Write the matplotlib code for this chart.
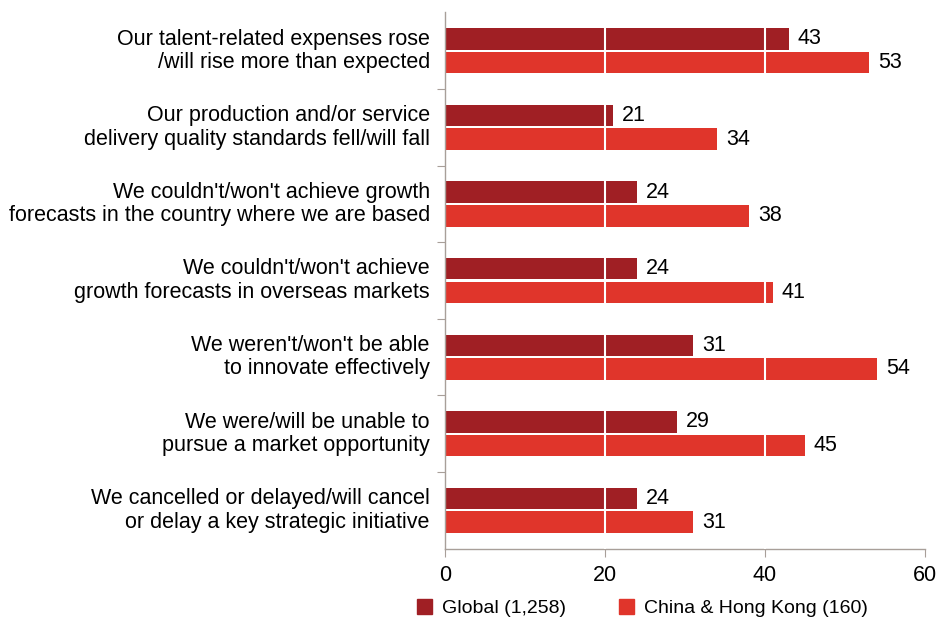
import numpy as np
import matplotlib.pyplot as plt
from matplotlib.patches import Patch

plt.rcParams['font.family'] = ['Liberation Sans', 'DejaVu Sans']

categories = [
    "Our talent-related expenses rose\n/will rise more than expected",
    "Our production and/or service\ndelivery quality standards fell/will fall",
    "We couldn't/won't achieve growth\nforecasts in the country where we are based",
    "We couldn't/won't achieve\ngrowth forecasts in overseas markets",
    "We weren't/won't be able\nto innovate effectively",
    "We were/will be unable to\npursue a market opportunity",
    "We cancelled or delayed/will cancel\nor delay a key strategic initiative",
]
global_vals = [43, 21, 24, 24, 31, 29, 24]
china_vals = [53, 34, 38, 41, 54, 45, 31]
series_names = ["Global (1,258)", "China & Hong Kong (160)"]

DARK = '#a01f24'
LIGHT = '#e0352b'
AXIS = '#a89f99'
FS = 15.5

fig = plt.figure(figsize=(9.5, 6.22), dpi=100)
ax = fig.add_axes([0.4684, 0.118, 0.5053, 0.862])

y = np.arange(len(categories))
h = 0.28
off = 0.155
ax.barh(y - off, global_vals, height=h, color=DARK, zorder=2)
ax.barh(y + off, china_vals, height=h, color=LIGHT, zorder=2)

for yi, g, c in zip(y, global_vals, china_vals):
    ax.text(g + 1.1, yi - off, str(g), va='center', ha='left', fontsize=FS, zorder=5)
    ax.text(c + 1.1, yi + off, str(c), va='center', ha='left', fontsize=FS, zorder=5)

# white gridlines cutting through the bars
for gx in (20, 40):
    ax.axvline(gx, color='white', lw=1.5, zorder=3)

ax.set_xlim(0, 60)
ax.set_ylim(len(categories) - 0.5, -0.5)
ax.set_xticks([0, 20, 40, 60])
ax.tick_params(axis='x', labelsize=FS, length=6, color=AXIS, direction='out', pad=6)

ax.set_yticks(np.arange(len(categories) - 1) + 0.5)
ax.set_yticklabels([])
ax.tick_params(axis='y', length=6, color=AXIS, direction='out')
for yi, lab in zip(y, categories):
    ax.text(-1.9, yi, lab, ha='right', va='center', fontsize=FS,
            linespacing=1.15)

for s in ('top', 'right'):
    ax.spines[s].set_visible(False)
for s in ('left', 'bottom'):
    ax.spines[s].set_color(AXIS)
    ax.spines[s].set_linewidth(1.0)

handles = [Patch(color=DARK), Patch(color=LIGHT)]
fig.legend(handles, series_names, loc='center', bbox_to_anchor=(0.676, 0.022),
           ncol=2, frameon=False, fontsize=14, handlelength=0.8,
           handleheight=0.8, handletextpad=0.5, columnspacing=2.7)

fig.savefig('out.png', dpi=100)
